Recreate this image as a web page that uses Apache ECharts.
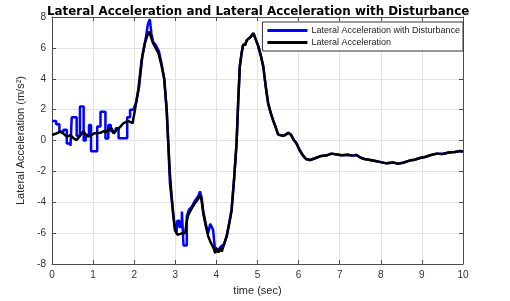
<!DOCTYPE html>
<html>
<head>
<meta charset="utf-8">
<script src="https://cdn.jsdelivr.net/npm/echarts@6/dist/echarts.min.js"></script>
<style>
    html, body { margin: 0; padding: 0; background: #fff; }
    #chart { width: 510px; height: 301px; }
</style>
</head>
<body>
<div id="chart"></div>
<script>
    // Lateral Acceleration (black)
    const accTime = [0.00, 0.10, 0.20, 0.28, 0.36, 0.45, 0.52, 0.60, 0.68, 0.76, 0.82, 0.88, 0.95, 1.02, 1.09, 1.18, 1.25, 1.33, 1.39, 1.45,
        1.50, 1.57, 1.65, 1.73, 1.80, 1.86, 1.96, 2.02, 2.10, 2.18, 2.26, 2.32, 2.37, 2.42, 2.46, 2.52, 2.59, 2.67, 2.73, 2.79,
        2.83, 2.87, 2.91, 2.95, 2.99, 3.05, 3.12, 3.18, 3.24, 3.28, 3.32, 3.40, 3.48, 3.55, 3.60, 3.64, 3.68, 3.74, 3.80, 3.86,
        3.93, 3.97, 4.00, 4.05, 4.10, 4.13, 4.19, 4.25, 4.31, 4.37, 4.43, 4.49, 4.53, 4.57, 4.61, 4.65, 4.70, 4.74, 4.78, 4.83,
        4.87, 4.90, 4.95, 5.02, 5.08, 5.14, 5.20, 5.26, 5.32, 5.38, 5.45, 5.50, 5.55, 5.63, 5.70, 5.75, 5.82, 5.88, 5.95, 6.02,
        6.10, 6.18, 6.28, 6.40, 6.55, 6.70, 6.80, 6.93, 7.05, 7.20, 7.30, 7.41, 7.50, 7.60, 7.74, 7.90, 8.00, 8.14, 8.30, 8.40,
        8.54, 8.70, 8.82, 8.95, 9.10, 9.20, 9.36, 9.50, 9.65, 9.80, 9.93, 10.0];
    const accValue = [0.36, 0.45, 0.57, 0.45, 0.25, 0.35, 0.15, 0.03, 0.3, 0.6, 0.4, 0.25, 0.35, 0.45, 0.48, 0.5, 0.6, 0.57, 0.75, 0.8,
        0.45, 0.68, 0.85, 1.1, 1.2, 1.26, 1.12, 2.0, 3.3, 5.2, 6.3, 6.8, 7.05, 6.6, 6.3, 6.0, 5.65, 4.8, 4.0, 2.0,
        -0.2, -2.2, -3.6, -4.8, -5.8, -6.1, -6.05, -6.0, -6.0, -5.2, -4.8, -4.4, -4.05, -3.8, -3.55, -3.9, -4.7, -5.5, -6.2, -6.6,
        -6.95, -7.3, -7.0, -7.25, -6.95, -7.2, -6.7, -6.2, -5.4, -4.5, -2.5, -0.2, 2.5, 4.8, 5.6, 6.2, 6.2, 6.5, 6.4, 6.7,
        6.6, 6.95, 6.6, 6.1, 5.5, 4.8, 3.5, 2.4, 1.8, 1.3, 0.8, 0.4, 0.35, 0.3, 0.4, 0.5, 0.35, 0.05, -0.2, -0.6,
        -0.95, -1.2, -1.26, -1.15, -1.0, -0.95, -0.85, -0.9, -0.95, -0.92, -0.98, -0.94, -1.1, -1.2, -1.26, -1.35, -1.4, -1.48, -1.42, -1.5,
        -1.44, -1.3, -1.25, -1.13, -1.05, -0.95, -0.85, -0.88, -0.78, -0.75, -0.68, -0.72];

    // Lateral Acceleration with Disturbance (blue), stepped noise up to ~4.2 s
    const distTime = [0.00, 0.10, 0.10, 0.18, 0.18, 0.28, 0.28, 0.36, 0.36, 0.45, 0.45, 0.48, 0.48, 0.60, 0.60, 0.68, 0.68, 0.77, 0.77, 0.82,
        0.82, 0.90, 0.90, 0.95, 0.95, 1.10, 1.10, 1.18, 1.18, 1.30, 1.30, 1.37, 1.37, 1.43, 1.43, 1.55, 1.55, 1.62, 1.62, 1.83,
        1.83, 1.90, 1.90, 1.98, 2.05, 2.12, 2.20, 2.28, 2.33, 2.38, 2.42, 2.46, 2.52, 2.60, 2.67, 2.73, 2.79, 2.83, 2.87, 2.92,
        2.95, 2.99, 3.03, 3.05, 3.10, 3.10, 3.16, 3.16, 3.20, 3.20, 3.28, 3.28, 3.33, 3.40, 3.48, 3.56, 3.60, 3.64, 3.68, 3.74,
        3.80, 3.85, 3.88, 3.92, 3.96, 4.00, 4.05, 4.10, 4.19, 4.25];
    const distValue = [1.27, 1.27, 1.06, 1.06, 0.56, 0.56, 0.7, 0.7, -0.2, -0.2, -0.35, -0.35, 1.5, 1.5, 0.3, 0.3, 2.2, 2.2, 0.0, 0.0,
        0.35, 0.35, 1.0, 1.0, -0.7, -0.7, 0.9, 0.9, 1.86, 1.86, 0.13, 0.13, 1.0, 1.0, 0.6, 0.6, 0.8, 0.8, 0.15, 0.15,
        1.5, 1.5, 2.0, 2.0, 2.5, 3.5, 5.5, 6.6, 7.5, 7.85, 6.9, 6.4, 6.2, 5.8, 4.9, 4.0, 2.0, -0.3, -2.8, -4.0,
        -4.8, -5.6, -5.95, -5.2, -5.2, -5.6, -5.6, -4.6, -4.6, -6.8, -6.8, -4.9, -4.5, -4.3, -3.9, -3.6, -3.3, -3.7, -4.6, -5.4,
        -6.0, -5.4, -5.35, -5.8, -6.9, -7.0, -7.1, -6.9, -6.7, -6.2];

    const xTicks = [0, 1, 2, 3, 4, 5, 6, 7, 8, 9, 10];
    const yTicks = [-8, -6, -4, -2, 0, 2, 4, 6, 8];

    const accData = accTime.map((t, i) => [t, accValue[i]]);
    const lastDist = distTime[distTime.length - 1];
    // after the disturbance ends the blue trace is the same as the black one
    const distData = distTime.map((t, i) => [t, distValue[i]])
        .concat(accData.filter(p => p[0] > lastDist));

    const axisColor = '#4d4d4d';
    const labelColor = '#333';
    const fontFamily = 'Liberation Sans, Arial, sans-serif';

    const baseX = {
        type: 'value',
        min: xTicks[0],
        max: xTicks[xTicks.length - 1],
        interval: 1,
        axisLine: { show: true, onZero: false, lineStyle: { color: axisColor, width: 1 } },
        axisTick: { show: true, inside: true, length: 4, lineStyle: { color: axisColor } },
        splitLine: { show: false }
    };
    const baseY = {
        type: 'value',
        min: yTicks[0],
        max: yTicks[yTicks.length - 1],
        interval: 2,
        axisLine: { show: true, onZero: false, lineStyle: { color: axisColor, width: 1 } },
        axisTick: { show: true, inside: true, length: 4, lineStyle: { color: axisColor } },
        splitLine: { show: false }
    };

    const option = {
        animation: false,
        backgroundColor: '#fff',
        title: {
            text: 'Lateral Acceleration and Lateral Acceleration with Disturbance',
            left: 42,
            top: 1,
            textStyle: { fontSize: 11.9, fontWeight: 'bold', color: '#000', fontFamily: 'DejaVu Sans, sans-serif' }
        },
        legend: {
            orient: 'vertical',
            right: 47,
            top: 22,
            backgroundColor: '#fff',
            borderColor: '#333',
            borderWidth: 1,
            borderRadius: 0,
            padding: [4, 3, 4, 5],
            itemGap: 3,
            itemWidth: 40,
            itemHeight: 3,
            icon: 'rect',
            textStyle: { fontSize: 9, color: '#222', fontFamily, padding: [0, 0, 0, -1] },
            data: ['Lateral Acceleration with Disturbance', 'Lateral Acceleration']
        },
        grid: { left: 52, right: 47, top: 17, bottom: 37 },
        xAxis: [
            {
                ...baseX,
                position: 'bottom',
                name: 'time (sec)',
                nameLocation: 'middle',
                nameGap: 21,
                nameTextStyle: { fontSize: 11, color: '#262626', fontFamily },
                axisLabel: { fontSize: 10, color: labelColor, margin: 6, fontFamily },
                splitLine: { show: true, lineStyle: { color: '#e3e3e3', width: 1 } }
            },
            { ...baseX, position: 'top', axisLabel: { show: false } }
        ],
        yAxis: [
            {
                ...baseY,
                position: 'left',
                name: 'Lateral Acceleration (m/s²)',
                nameLocation: 'middle',
                nameGap: 26,
                nameTextStyle: { fontSize: 11, color: '#262626', fontFamily },
                axisLabel: { fontSize: 10, color: labelColor, margin: 6, fontFamily },
                splitLine: { show: true, lineStyle: { color: '#e3e3e3', width: 1 } }
            },
            { ...baseY, position: 'right', axisLabel: { show: false } }
        ],
        series: [
            {
                name: 'Lateral Acceleration with Disturbance',
                type: 'line',
                data: distData,
                showSymbol: false,
                color: '#0000ff',
                lineStyle: { color: '#0000ff', width: 2.5 },
                z: 2
            },
            {
                name: 'Lateral Acceleration',
                type: 'line',
                data: accData,
                showSymbol: false,
                color: '#000',
                lineStyle: { color: '#000', width: 2.5 },
                z: 3
            }
        ]
    };

    const chart = echarts.init(document.getElementById('chart'), null, { renderer: 'canvas' });
    chart.setOption(option);
</script>
</body>
</html>
